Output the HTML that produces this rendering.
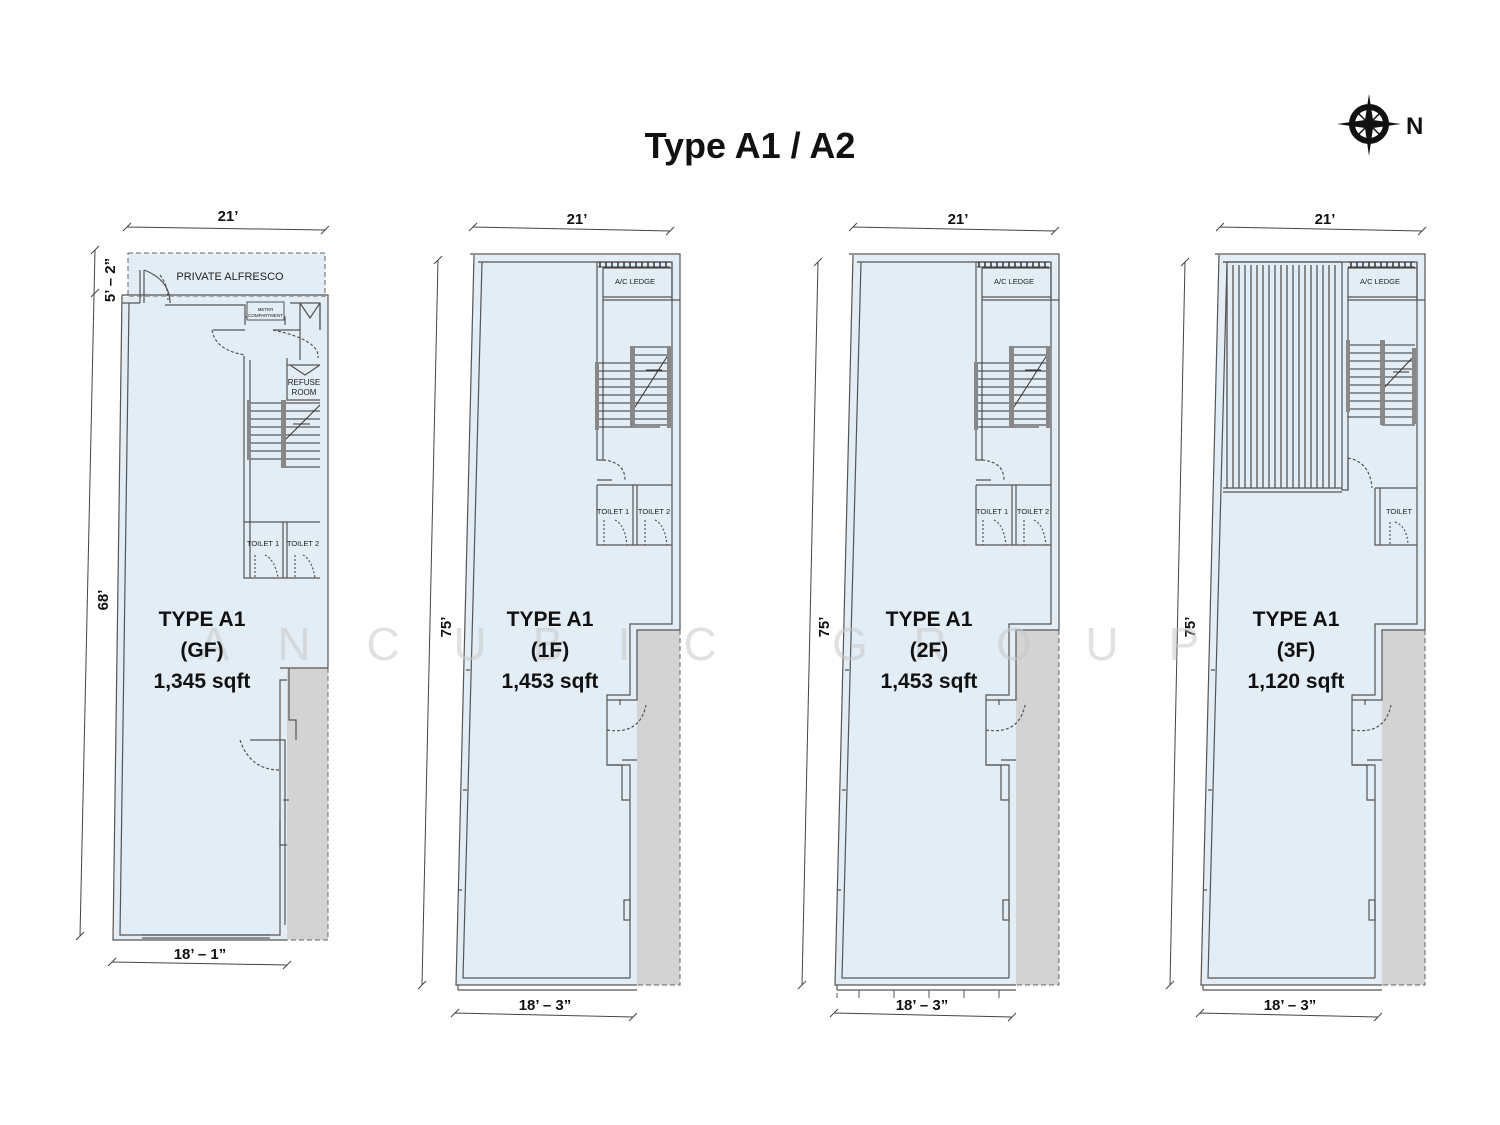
<!DOCTYPE html>
<html><head><meta charset="utf-8"><style>
html,body{margin:0;padding:0;background:#fff;}
svg{display:block;}
text{font-family:"Liberation Sans",sans-serif;}
</style></head><body>
<svg width="1500" height="1125" viewBox="0 0 1500 1125" xmlns="http://www.w3.org/2000/svg">
<defs>
<g id="shell">
  <polygon points="474,255 680,255 680,630 637,630 637,985 456,985" fill="#e2edf5"/>
  <rect x="637" y="630" width="43" height="355" fill="#d3d3d3"/>
  <path d="M680,630 V985 H637" fill="none" stroke="#666" stroke-width="1" stroke-dasharray="5,3"/>
  <g fill="none" stroke="#555" stroke-width="1.2">
    <path d="M474,255 L456,985 H637 M482,262 L463,978 H630"/>
    <path d="M470,254 H680 V630 M478,262 H672 V624 H630 V695 H607 V765 H630 V978"/>
    <path d="M680,630 H637 V700 H620 V705 M637,760 H622"/>
    <path d="M458,990 H637 M458,985 V990"/>
    <path d="M672,262 V300 H680"/>
    <path d="M467,790 L463,790 M470,670 L466,670 M462,890 L458,890"/>
    <rect x="624" y="900" width="6" height="20"/>
    <path d="M607,765 H622 V800 H630 M607,700 H622" />
    <path d="M607,730 Q640,735 646,705" stroke-dasharray="3,2"/>
  </g>
</g>
<g id="core">
  <g fill="none" stroke="#555" stroke-width="1.2">
    <path d="M597,262 V460 H603 V268 M603,268 H672"/>
    <path d="M603,297 H672 M603,300 H672"/>
    <path d="M597,480 H612 M597,485 H672 M597,485 V545 H672 M633,485 V545 M637,485 V545"/>
    <path d="M603,460 Q625,462 625,480" stroke-dasharray="3,2"/>
    <path d="M604,520 V545 M615,520 Q625,525 627,545 M645,520 V545 M655,520 Q665,525 667,545" stroke-dasharray="2,2"/>
  </g>
  <g stroke="#333" stroke-width="1">
    <path d="M597,363 H670 M597,371 H670 M597,379 H670 M597,387 H670 M597,395 H670 M597,403 H670 M597,411 H670 M597,419 H670 M597,427 H660 M633,355 H670 M633,347 H670 M633,425 H670"/>
    <path d="M633,410 L670,352 M646,370 H662"/>
  </g>
  <rect x="595" y="362" width="4" height="68" fill="#888"/>
  <rect x="630" y="346" width="5" height="82" fill="#888"/>
  <rect x="667" y="346" width="4" height="82" fill="#888"/>
  <path d="M598,262 H670 M598,267 H670" stroke="#333" stroke-width="1"/>
  <path d="M600,262 v5 M606,262 v5 M612,262 v5 M618,262 v5 M624,262 v5 M630,262 v5 M636,262 v5 M642,262 v5 M648,262 v5 M654,262 v5 M660,262 v5 M666,262 v5" stroke="#333" stroke-width="1.5"/>
  <text x="635" y="284" font-size="7.5" text-anchor="middle" fill="#222">A/C LEDGE</text>
</g>
</defs>

<text x="750" y="158" font-size="36" font-weight="bold" text-anchor="middle" fill="#111">Type A1 / A2</text>

<!-- compass -->
<g transform="translate(1369,124)">
  <circle r="17" fill="none" stroke="#111" stroke-width="6"/>
  <polygon points="0,-30 4,-4 32,0 4,4 0,32 -4,4 -32,0 -4,-4" fill="#111"/>
  <path d="M-12,-12 L12,12 M12,-12 L-12,12" stroke="#111" stroke-width="1.5"/>
</g>
<text x="1406" y="134" font-size="24" font-weight="bold" fill="#111">N</text>

<!-- GF -->
<rect x="128" y="253" width="197" height="44" fill="#e2edf5" stroke="#666" stroke-dasharray="5,3"/>
<polygon points="122,297 328,297 328,668 287,668 287,940 113,940" fill="#e2edf5"/>
<rect x="287" y="668" width="41" height="272" fill="#d3d3d3"/>
<path d="M328,668 V940 H287" fill="none" stroke="#666" stroke-dasharray="5,3"/>
<g fill="none" stroke="#555" stroke-width="1.2">
  <path d="M122,295 H328 V668 M122,303 H140 M165,305 H245 V325 M245,317 H285 V325 M290,303 H320 V330"/>
  <path d="M122,295 L113,940 H287 M129,303 L120,935 H280 V680 H287 M280,668 H328"/>
  <path d="M289,668 V720 H296 V740 M250,740 H285 V925 M283,800 H289 M280,820 V845 H287"/>
  <path d="M140,270 V303 M144,270 V303 M144,270 Q170,280 170,303" />
  <path d="M213,330 H245 M273,330 H300 V360 M244,356 V578 H320 M250,360 V578"/>
  <path d="M287,358 V400 H320 M287,365 H320 M290,365 L305,375 L320,365"/>
  <path d="M244,522 H320 M283,522 V578 M287,522 V578"/>
  <path d="M300,303 L310,318 L320,303 M300,303 V330 M320,303 V330"/>
  <path d="M212,330 Q215,350 245,355 M273,330 Q320,340 318,358 M160,275 Q168,285 168,300" stroke-dasharray="3,2"/>
  <path d="M255,555 V578 M265,555 Q275,560 278,578 M295,555 V578 M303,555 Q312,560 315,578" stroke-dasharray="2,2"/>
  <path d="M240,740 Q250,770 280,770" stroke-dasharray="3,2"/>
  <path d="M142,935 H270 M142,938 H270"/>
</g>
<rect x="247" y="302" width="37" height="18" fill="#e2edf5" stroke="#555"/>
<text x="265.5" y="311" font-size="4.5" text-anchor="middle" fill="#222">METER</text>
<text x="265.5" y="317" font-size="4.5" text-anchor="middle" fill="#222">COMPARTMENT</text>
<g stroke="#333" stroke-width="1">
  <path d="M250,403 H320 M250,411 H320 M250,419 H320 M250,427 H320 M250,435 H320 M250,443 H320 M250,451 H320 M250,459 H320 M283,467 H320"/>
  <path d="M285,440 L320,405 M293,424 H310"/>
</g>
<rect x="247" y="400" width="4" height="60" fill="#888"/>
<rect x="281" y="400" width="5" height="68" fill="#888"/>
<text x="304" y="385" font-size="8" text-anchor="middle" fill="#222">REFUSE</text>
<text x="304" y="395" font-size="8" text-anchor="middle" fill="#222">ROOM</text>
<text x="263" y="546" font-size="7.5" text-anchor="middle" fill="#222">TOILET 1</text>
<text x="303" y="546" font-size="7.5" text-anchor="middle" fill="#222">TOILET 2</text>
<text x="230" y="280" font-size="11" text-anchor="middle" fill="#222">PRIVATE  ALFRESCO</text>
<g stroke="#444" stroke-width="1" fill="none">
  <path d="M127,227 L325,230 M123,231 l8,-8 M321,234 l8,-8"/>
  <path d="M95,250 L80,936 M91,254 l8,-8 M76,940 l8,-8 M91,297 l8,-8"/>
  <path d="M112,962 L287,965 M108,966 l8,-8 M283,969 l8,-8"/>
</g>
<text x="228" y="221" font-size="15" font-weight="bold" text-anchor="middle" fill="#111">21’</text>
<text transform="translate(115,280) rotate(-90)" font-size="15" font-weight="bold" text-anchor="middle" fill="#111">5’ – 2”</text>
<text transform="translate(108,600) rotate(-90)" font-size="15" font-weight="bold" text-anchor="middle" fill="#111">68’</text>
<text x="200" y="959" font-size="15" font-weight="bold" text-anchor="middle" fill="#111">18’ – 1”</text>

<!-- 1F / 2F / 3F -->
<g>
  <use href="#shell"/><use href="#core"/>
  <text x="613" y="514" font-size="7.5" text-anchor="middle" fill="#222">TOILET 1</text>
  <text x="654" y="514" font-size="7.5" text-anchor="middle" fill="#222">TOILET 2</text>
</g>
<g transform="translate(379,0)">
  <use href="#shell"/><use href="#core"/>
  <text x="613" y="514" font-size="7.5" text-anchor="middle" fill="#222">TOILET 1</text>
  <text x="654" y="514" font-size="7.5" text-anchor="middle" fill="#222">TOILET 2</text>
  <path d="M458,993 v5 M480,990 v8 M515,990 v8 M550,990 v8 M585,990 v8 M620,990 v8" stroke="#555" fill="none"/>
</g>
<g transform="translate(745,0)">
  <use href="#shell"/>
  <g fill="none" stroke="#555" stroke-width="1.2">
    <path d="M597,262 V300 M603,268 V300 M603,268 H672 M603,297 H672 M603,300 H672"/>
    <path d="M597,300 V490 H603 V300"/>
    <path d="M478,262 H597 M478,488 H597 M478,492 H597 M603,458 V490"/>
    <path d="M630,488 H672 M630,488 V545 H672 M635,488 V545"/>
    <path d="M603,458 Q625,462 627,488" stroke-dasharray="3,2"/>
    <path d="M645,522 V545 M650,522 Q662,526 663,545" stroke-dasharray="2,2"/>
  </g>
  <g stroke="#555" stroke-width="1.3">
    <path d="M482,265 V488 M488,265 V488 M494,265 V488 M500,265 V488 M506,265 V488 M512,265 V488 M518,265 V488 M524,265 V488 M530,265 V488 M536,265 V488 M542,265 V488 M548,265 V488 M554,265 V488 M560,265 V488 M566,265 V488 M572,265 V488 M578,265 V488 M584,265 V488 M590,265 V488"/>
  </g>
  <g stroke="#333" stroke-width="1">
    <path d="M603,345 H670 M603,353 H670 M603,361 H670 M603,369 H670 M603,377 H670 M603,385 H670 M603,393 H670 M603,401 H670 M603,409 H670 M603,417 H670 M637,425 H670"/>
    <path d="M637,390 L670,355 M648,372 H664"/>
  </g>
  <rect x="601" y="340" width="4" height="72" fill="#888"/>
  <rect x="635" y="340" width="5" height="85" fill="#888"/>
  <rect x="667" y="348" width="4" height="76" fill="#888"/>
  <path d="M603,262 H670 M603,267 H670" stroke="#333"/>
  <path d="M606,262 v5 M612,262 v5 M618,262 v5 M624,262 v5 M630,262 v5 M636,262 v5 M642,262 v5 M648,262 v5 M654,262 v5 M660,262 v5 M666,262 v5" stroke="#333" stroke-width="1.5"/>
  <text x="635" y="284" font-size="7.5" text-anchor="middle" fill="#222">A/C LEDGE</text>
  <text x="654" y="514" font-size="7.5" text-anchor="middle" fill="#222">TOILET</text>
</g>

<g stroke="#444" stroke-width="1" fill="none">
  <path d="M473,227 L670,231 M469,231 l8,-8 M666,235 l8,-8"/>
  <path d="M438,260 L422,985 M434,264 l8,-8 M418,989 l8,-8"/>
  <path d="M455,1013 L633,1017 M451,1017 l8,-8 M629,1021 l8,-8"/>
  <path d="M853,227 L1055,231 M849,231 l8,-8 M1051,235 l8,-8"/>
  <path d="M818,262 L802,985 M814,266 l8,-8 M798,989 l8,-8"/>
  <path d="M834,1013 L1012,1017 M830,1017 l8,-8 M1008,1021 l8,-8"/>
  <path d="M1220,227 L1422,231 M1216,231 l8,-8 M1418,235 l8,-8"/>
  <path d="M1185,262 L1170,985 M1181,266 l8,-8 M1166,989 l8,-8"/>
  <path d="M1200,1013 L1378,1017 M1196,1017 l8,-8 M1374,1021 l8,-8"/>
</g>
<g fill="#111" font-size="15" font-weight="bold" text-anchor="middle">
<text x="577" y="224">21’</text><text x="958" y="224">21’</text><text x="1325" y="224">21’</text>
<text x="545" y="1010">18’ – 3”</text><text x="922" y="1010">18’ – 3”</text><text x="1290" y="1010">18’ – 3”</text>
<text transform="translate(451,627) rotate(-90)">75’</text>
<text transform="translate(829,627) rotate(-90)">75’</text>
<text transform="translate(1195,627) rotate(-90)">75’</text>
</g>

<!-- watermark (on top) -->
<g font-size="46" fill="#c8c8c8" fill-opacity="0.55" text-anchor="middle">
<text x="214" y="660">A</text><text x="294" y="660">N</text><text x="383" y="660">C</text><text x="470" y="660">U</text><text x="548" y="660">B</text><text x="624" y="660">I</text><text x="700" y="660">C</text><text x="850" y="660">G</text><text x="930" y="660">R</text><text x="1014" y="660">O</text><text x="1102" y="660">U</text><text x="1184" y="660">P</text>
</g>

<g fill="#111" font-size="21" text-anchor="middle" font-weight="600">
<text x="202" y="626">TYPE A1</text><text x="202" y="657">(GF)</text><text x="202" y="688">1,345 sqft</text>
<text x="550" y="626">TYPE A1</text><text x="550" y="657">(1F)</text><text x="550" y="688">1,453 sqft</text>
<text x="929" y="626">TYPE A1</text><text x="929" y="657">(2F)</text><text x="929" y="688">1,453 sqft</text>
<text x="1296" y="626">TYPE A1</text><text x="1296" y="657">(3F)</text><text x="1296" y="688">1,120 sqft</text>
</g>
</svg>
</body></html>
